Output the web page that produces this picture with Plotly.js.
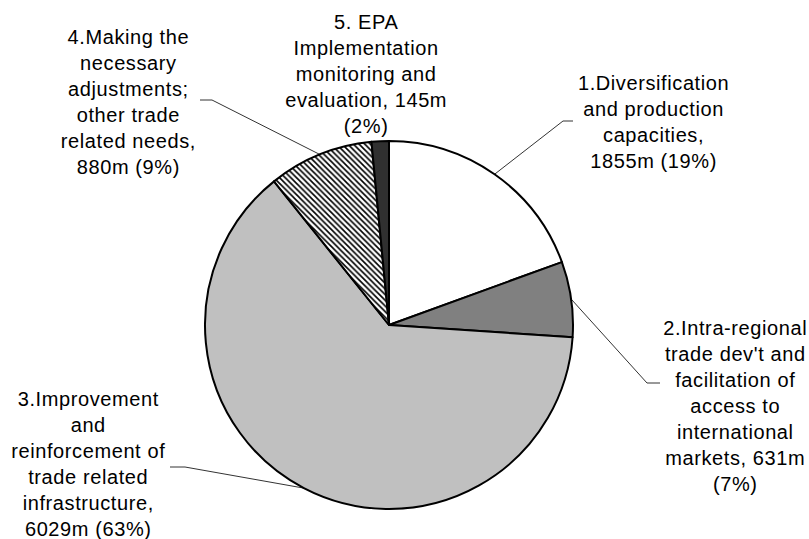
<!DOCTYPE html>
<html>
<head>
<meta charset="utf-8">
<script src="https://cdn.plot.ly/plotly-3.0.1.min.js"></script>
<style>
html,body{margin:0;padding:0;background:#fff;}
#chart{width:809px;height:539px;}
#chart .annotation-text{letter-spacing:0.6px;}
</style>
</head>
<body>
<div id="chart"></div>
<script>
// ---- data ----
const categories = [
  "1.Diversification and production capacities",
  "2.Intra-regional trade dev't and facilitation of access to international markets",
  "3.Improvement and reinforcement of trade related infrastructure",
  "4.Making the necessary adjustments; other trade related needs",
  "5. EPA Implementation monitoring and evaluation"
];
const values = [1855, 631, 6029, 880, 145];
const labelTexts = [
  "1.Diversification<br>and production<br>capacities,<br>1855m (19%)",
  "2.Intra-regional<br>trade dev't and<br>facilitation of<br>access to<br>international<br>markets, 631m<br>(7%)",
  "3.Improvement<br>and<br>reinforcement of<br>trade related<br>infrastructure,<br>6029m (63%)",
  "4.Making the<br>necessary<br>adjustments;<br>other trade<br>related needs,<br>880m (9%)",
  "5. EPA<br>Implementation<br>monitoring and<br>evaluation, 145m<br>(2%)"
];

// ---- layout / style ----
const W = 809, H = 539;
const cx = 389, cy = 325, R = 184;
const sliceColors = ["#ffffff", "#808080", "#c0c0c0", "#ffffff", "#303030"];
const patternShapes = ["", "", "", "\\", ""];
// label block centres (pixels) and leader elbows
const labelPos = [
  {x: 653, y: 121.5, elbow: [563, 121], end: [573, 121]},
  {x: 735, y: 406,  elbow: [647, 383], end: [660, 383]},
  {x: 88,  y: 464,  elbow: [185, 467], end: [170, 467]},
  {x: 128, y: 101.5, elbow: [212, 100], end: [200, 100]},
  {x: 366, y: 73.5, elbow: null, end: null}
];

const total = values.reduce((a, b) => a + b, 0);
const traces = [];
traces.push({
  type: 'pie',
  labels: categories,
  values: values,
  sort: false,
  direction: 'clockwise',
  rotation: 0,
  textinfo: 'none',
  hoverinfo: 'skip',
  showlegend: false,
  domain: {x: [(cx - R) / W, (cx + R) / W], y: [(H - cy - R) / H, (H - cy + R) / H]},
  marker: {
    colors: sliceColors,
    line: {color: '#000000', width: 2},
    pattern: {shape: patternShapes, fgcolor: '#000000', bgcolor: '#ffffff', size: 4, solidity: 0.4, fillmode: 'replace'}
  }
});

const annotations = [];
let cum = 0;
values.forEach((v, i) => {
  const mid = 2 * Math.PI * (cum + v / 2) / total;
  cum += v;
  const p = labelPos[i];
  if (p.elbow) {
    const px = cx + R * Math.sin(mid);
    const py = cy - R * Math.cos(mid);
    traces.push({
      type: 'scatter', mode: 'lines',
      x: [px, p.elbow[0], p.end[0]],
      y: [py, p.elbow[1], p.end[1]],
      line: {color: '#333333', width: 1},
      hoverinfo: 'skip', showlegend: false
    });
  }
  annotations.push({
    x: p.x, y: p.y, xref: 'x', yref: 'y',
    text: labelTexts[i], showarrow: false,
    xanchor: 'center', yanchor: 'middle', align: 'center',
    font: {family: 'Liberation Sans, Arial, sans-serif', size: 20, color: '#000000'}
  });
});

const layout = {
  width: W, height: H,
  margin: {l: 0, r: 0, t: 0, b: 0},
  paper_bgcolor: '#ffffff', plot_bgcolor: 'rgba(0,0,0,0)',
  xaxis: {range: [0, W], visible: false, fixedrange: true},
  yaxis: {range: [H, 0], visible: false, fixedrange: true},
  showlegend: false,
  annotations: annotations
};

Plotly.newPlot('chart', traces, layout, {displayModeBar: false, staticPlot: true});
</script>
</body>
</html>
